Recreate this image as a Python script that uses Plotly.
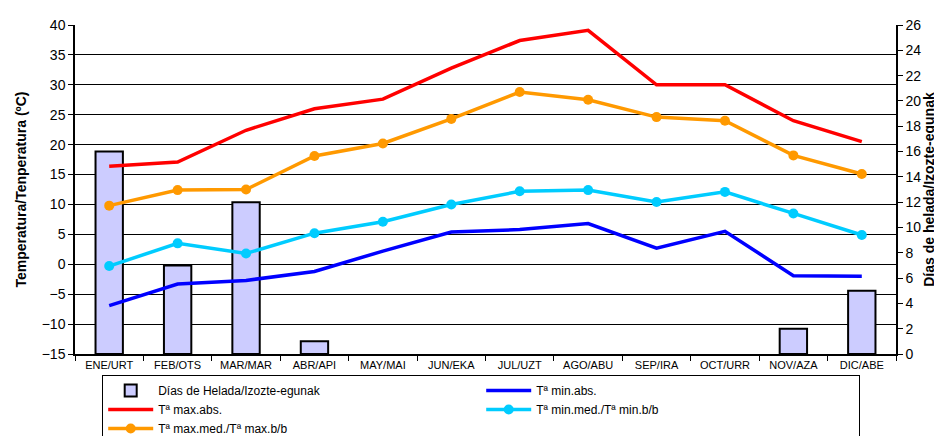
import plotly.graph_objects as go

meses = ['ENE/URT', 'FEB/OTS', 'MAR/MAR', 'ABR/API', 'MAY/MAI', 'JUN/EKA',
         'JUL/UZT', 'AGO/ABU', 'SEP/IRA', 'OCT/URR', 'NOV/AZA', 'DIC/ABE']

dias_helada = [16, 7, 12, 1, 0, 0, 0, 0, 0, 0, 2, 5]
t_max_abs = [16.4, 17.1, 22.4, 26.0, 27.6, 32.8, 37.4, 39.1, 30.0, 30.0, 24.0, 20.5]
t_max_med = [9.8, 12.4, 12.5, 18.1, 20.2, 24.3, 28.8, 27.5, 24.6, 24.0, 18.2, 15.1]
t_min_med = [-0.3, 3.5, 1.8, 5.2, 7.1, 10.0, 12.2, 12.4, 10.4, 12.1, 8.5, 4.9]
t_min_abs = [-6.9, -3.3, -2.7, -1.2, 2.2, 5.4, 5.8, 6.8, 2.7, 5.5, -1.9, -2.0]

FONT = 'Liberation Sans, Arial, sans-serif'

fig = go.Figure()

# barras en el eje principal (derecha) para que las líneas queden encima
# (los meses sin heladas no dibujan barra)
fig.add_trace(go.Bar(
    x=meses, y=[d if d > 0 else None for d in dias_helada],
    name='Días de Helada/Izozte-egunak',
    marker=dict(color='#ccccff', line=dict(color='black', width=2)),
    width=0.4, yaxis='y',
))
fig.add_trace(go.Scatter(
    x=meses, y=t_min_abs, name='Tª min.abs.', mode='lines',
    line=dict(color='#0000ff', width=3.5), yaxis='y2',
))
fig.add_trace(go.Scatter(
    x=meses, y=t_max_abs, name='Tª max.abs.', mode='lines',
    line=dict(color='#ff0000', width=3.5), yaxis='y2',
))
fig.add_trace(go.Scatter(
    x=meses, y=t_min_med, name='Tª min.med./Tª min.b/b', mode='lines+markers',
    line=dict(color='#00ccff', width=3.5), marker=dict(size=10, color='#00ccff'),
    yaxis='y2',
))
fig.add_trace(go.Scatter(
    x=meses, y=t_max_med, name='Tª max.med./Tª max.b/b', mode='lines+markers',
    line=dict(color='#ff9900', width=3.5), marker=dict(size=10, color='#ff9900'),
    yaxis='y2',
))

fig.update_layout(
    width=942, height=436,
    template=None,
    paper_bgcolor='white', plot_bgcolor='white',
    font=dict(family=FONT, color='black', size=13),
    margin=dict(l=67, r=54, t=17, b=90),
    xaxis=dict(
        range=[-0.5, 11.5], showline=True, linecolor='black', linewidth=1.5,
        ticks='outside', tickson='boundaries', ticklen=5, tickcolor='black',
        tickfont=dict(size=11), showgrid=False,
    ),
    yaxis=dict(
        side='right', range=[0, 26], dtick=2, showgrid=False, zeroline=False,
        showline=True, linecolor='black', linewidth=1.5,
        ticks='outside', ticklen=5, tickcolor='black', tickfont=dict(size=14),
        title=dict(text='<b>Días de helada/Izozte-egunak</b>', font=dict(size=14), standoff=2),
    ),
    yaxis2=dict(
        overlaying='y', side='left', range=[-15, 40], dtick=5,
        showgrid=True, gridcolor='black', gridwidth=1, zeroline=False,
        showline=True, linecolor='black', linewidth=1.5,
        ticks='outside', ticklen=5, tickcolor='black', tickfont=dict(size=14),
        title=dict(text='<b>Temperatura/Tenperatura (ºC)</b>', font=dict(size=14), standoff=12),
    ),
    showlegend=True,
    legend=dict(
        orientation='h', xref='container', yref='container',
        x=0.1, xanchor='left', y=1 - 367 / 436, yanchor='top',
        entrywidth=318, bordercolor='black', borderwidth=1,
        font=dict(size=12), itemwidth=45, tracegroupgap=0,
    ),
)

fig.write_html('out.html')
